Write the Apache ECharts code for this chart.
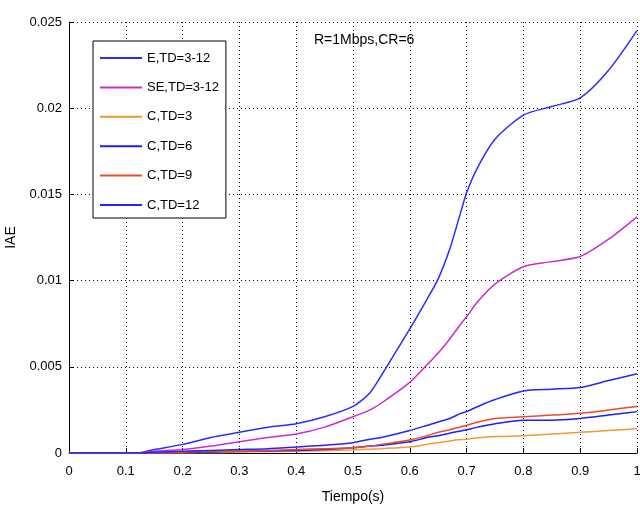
<!DOCTYPE html>
<html>
<head>
<meta charset="utf-8">
<script src="https://cdn.jsdelivr.net/npm/echarts@6/dist/echarts.min.js"></script>
<style>
  html, body { margin: 0; padding: 0; background: #fff; }
  #iae { width: 640px; height: 508px; }
</style>
</head>
<body>
<div id="iae"></div>
<script>
// tiempo (s)
var tiempo = [0, 0.05, 0.1, 0.12, 0.15, 0.2, 0.25, 0.3, 0.35, 0.4, 0.45, 0.5, 0.53, 0.55, 0.6, 0.63, 0.65, 0.67, 0.69, 0.7, 0.72, 0.75, 0.8, 0.85, 0.9, 0.95, 1.0];

var nombres = ['E,TD=3-12', 'SE,TD=3-12', 'C,TD=3', 'C,TD=6', 'C,TD=9', 'C,TD=12'];
var colores = ['#2b2bff', '#cc2ccc', '#ee9a35', '#1c1cff', '#ee4a2a', '#2424ff'];

var iaeE   = [0, 0, 0, 0, 0.0002, 0.0005, 0.0009, 0.0012, 0.0015, 0.0017, 0.0021, 0.0027, 0.0035, 0.0045, 0.0072, 0.0089, 0.0101, 0.0118, 0.0140, 0.0151, 0.0166, 0.0182, 0.0196, 0.0201, 0.0206, 0.0222, 0.0245];
var iaeSE  = [0, 0, 0, 0, 0.0001, 0.0002, 0.0004, 0.00065, 0.0009, 0.0011, 0.0015, 0.0021, 0.0025, 0.0029, 0.0041, 0.0051, 0.0058, 0.0066, 0.0075, 0.0079, 0.0088, 0.0098, 0.0108, 0.0111, 0.0114, 0.0124, 0.0137];
var iaeC3  = [0, 0, 0, 0, 0, 0, 0.00002, 0.00005, 0.00008, 0.0001, 0.00013, 0.00018, 0.00022, 0.00025, 0.00035, 0.0005, 0.0006, 0.0007, 0.00078, 0.0008, 0.00088, 0.00095, 0.001, 0.0011, 0.0012, 0.0013, 0.0014];
var iaeC6  = [0, 0, 0, 0, 0, 0.00003, 0.00006, 0.0001, 0.00012, 0.00015, 0.0002, 0.0003, 0.0004, 0.00045, 0.00065, 0.0009, 0.001, 0.00115, 0.00128, 0.00135, 0.0015, 0.0017, 0.0019, 0.0019, 0.002, 0.0022, 0.0024];
var iaeC9  = [0, 0, 0, 0, 0, 0.00005, 0.0001, 0.0001, 0.00015, 0.0002, 0.00025, 0.0003, 0.0004, 0.0005, 0.00075, 0.001, 0.0012, 0.00135, 0.00152, 0.0016, 0.0018, 0.002, 0.0021, 0.0022, 0.0023, 0.0025, 0.0027];
var iaeC12 = [0, 0, 0, 0, 0.00005, 0.0001, 0.00015, 0.0002, 0.00025, 0.00035, 0.00045, 0.0006, 0.0008, 0.0009, 0.0013, 0.0016, 0.0018, 0.002, 0.0023, 0.0024, 0.0027, 0.0031, 0.0036, 0.0037, 0.0038, 0.0042, 0.0046];

var datos = [iaeE, iaeSE, iaeC3, iaeC6, iaeC9, iaeC12];

var fuente = "'Liberation Sans', Arial, sans-serif";

var series = [];
for (var i = 0; i < nombres.length; i++) {
  var pts = [];
  for (var j = 0; j < tiempo.length; j++) {
    pts.push([tiempo[j], datos[i][j]]);
  }
  series.push({
    name: nombres[i],
    type: 'line',
    data: pts,
    symbol: 'none',
    smooth: 0.25,
    color: colores[i],
    lineStyle: { width: 1.5, color: colores[i] },
    z: 3 + i
  });
}

var chart = echarts.init(document.getElementById('iae'));
chart.setOption({
  animation: false,
  backgroundColor: '#fff',
  title: {
    text: 'R=1Mbps,CR=6',
    left: 309,
    top: 28,
    textStyle: { fontFamily: fuente, fontSize: 14, fontWeight: 'normal', color: '#000' }
  },
  legend: {
    orient: 'vertical',
    left: 93,
    top: 41,
    padding: [10, 7, 6, 7],
    icon: 'rect',
    itemWidth: 42,
    itemHeight: 2,
    itemGap: 15.4,
    borderColor: '#000',
    borderWidth: 1,
    borderRadius: 0,
    backgroundColor: '#fff',
    textStyle: { fontFamily: fuente, fontSize: 13, lineHeight: 14, color: '#000' },
    data: nombres
  },
  grid: { left: 69, right: 3, top: 22, bottom: 55, outerBoundsMode: 'none', containLabel: false },
  xAxis: {
    type: 'value',
    min: 0,
    max: 1,
    interval: 0.1,
    name: 'Tiempo(s)',
    nameLocation: 'middle',
    nameGap: 37,
    nameTextStyle: { fontFamily: fuente, fontSize: 14, color: '#000' },
    axisLine: { lineStyle: { color: '#000', width: 1 } },
    axisTick: { inside: true, length: 5, lineStyle: { color: '#000' } },
    axisLabel: { fontFamily: fuente, fontSize: 13, color: '#000', margin: 12 },
    splitLine: { show: true, lineStyle: { color: '#000', type: [1, 3], width: 1 } }
  },
  yAxis: {
    type: 'value',
    min: 0,
    max: 0.025,
    interval: 0.005,
    name: 'IAE',
    nameLocation: 'middle',
    nameGap: 46,
    nameTextStyle: { fontFamily: fuente, fontSize: 14, color: '#000' },
    axisLine: { show: true, lineStyle: { color: '#000', width: 1 } },
    axisTick: { show: true, inside: true, length: 5, lineStyle: { color: '#000' } },
    axisLabel: { fontFamily: fuente, fontSize: 13, color: '#000', margin: 7 },
    splitLine: { show: true, lineStyle: { color: '#000', type: [1, 3], width: 1 } }
  },
  series: series
});
</script>
</body>
</html>
